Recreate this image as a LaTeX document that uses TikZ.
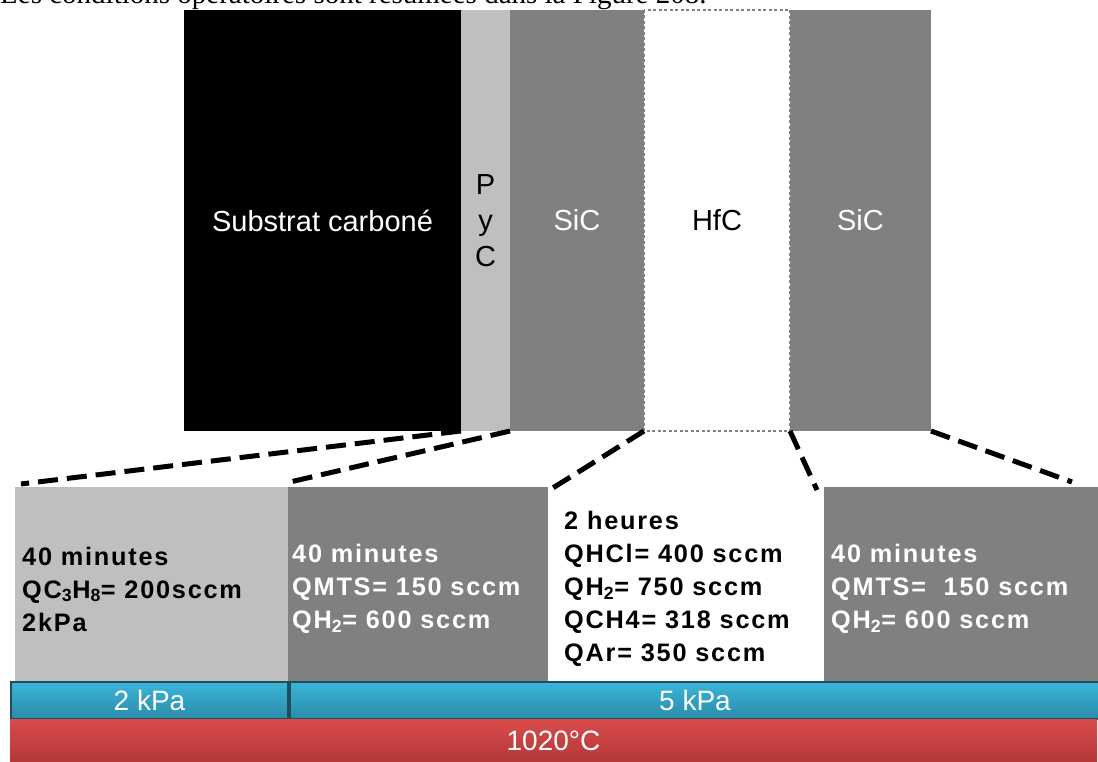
\documentclass[tikz,border=0pt]{standalone}
\usepackage{fontspec}
\setmainfont{Liberation Sans}
\newfontfamily\introfont{Liberation Serif}
\newfontfamily\condfont[LetterSpace=7]{Liberation Sans}
\definecolor{lgray}{HTML}{BFBFBF}
\definecolor{mgray}{HTML}{808080}
\definecolor{bluetop}{HTML}{3CB4D8}
\definecolor{bluebot}{HTML}{2A8CAA}
\definecolor{blueline}{HTML}{1E4F60}
\definecolor{redtop}{HTML}{DA4B4B}
\definecolor{redbot}{HTML}{B33838}
\begin{document}
\begin{tikzpicture}[x=1pt,y=-1pt,
  layer/.style={inner sep=0pt, outer sep=0pt, anchor=north west, minimum height=421pt, font=\fontsize{29}{36}\selectfont},
  cond/.style={inner sep=0pt, outer sep=0pt, anchor=north west, minimum height=194pt},
  condtext/.style={inner sep=0pt, anchor=west, align=left, font=\condfont\bfseries\fontsize{25.3}{33}\selectfont},
  dashline/.style={line width=5pt, dash pattern=on 20pt off 9pt},
  bar/.style={inner sep=0pt, outer sep=0pt, anchor=north west, text=white, font=\fontsize{28}{28}\selectfont},
]
\useasboundingbox (0,0) rectangle (1098,762);
\clip (0,0) rectangle (1098,762);

% cut-off sentence at the top
\node[anchor=base west, inner sep=0pt, font=\introfont\fontsize{29}{34}\selectfont] (intro) at (0,4) {Les conditions opératoires sont résumées dans la Figure 208.};

% layers
\node[layer, fill=black, text=white, minimum width=277pt] (sub) at (184,10) {Substrat carboné};
\node[layer, fill=lgray, minimum width=49pt, align=center] (pyc) at (461,10) {P\\y\\C};
\node[layer, fill=mgray, text=white, minimum width=134pt] (sic1) at (510,10) {SiC};
\node[layer, fill=white, minimum width=146pt] (hfc) at (644,10) {HfC};
\node[layer, fill=mgray, text=white, minimum width=141pt] (sic2) at (790,10) {SiC};
\draw[mgray, line width=2.5pt, dash pattern=on 3pt off 2.5pt] (hfc.north west) rectangle (hfc.south east);

% condition boxes
\node[cond, fill=lgray, minimum width=273pt] (b1) at (15,487) {};
\node[cond, fill=mgray, minimum width=260pt] (b2) at (288,487) {};
\node[cond, fill=white, minimum width=276pt] (b3) at (548,487) {};
\node[cond, fill=mgray, minimum width=274pt] (b4) at (824,487) {};

\node[condtext] (t1) at (22,589) {40 minutes\\QC\textsubscript{3}H\textsubscript{8}= 200sccm\\2kPa};
\node[condtext, text=white] (t2) at (292,589) {40 minutes\\QMTS= 150 sccm\\QH\textsubscript{2}= 600 sccm};
\node[condtext] (t3) at (564,589) {2 heures\\QHCl= 400 sccm\\QH\textsubscript{2}= 750 sccm\\QCH4= 318 sccm\\QAr= 350 sccm};
\node[condtext, text=white] (t4) at (831,589) {40 minutes\\QMTS=\ \ 150 sccm\\QH\textsubscript{2}= 600 sccm};

% dashed connectors
\coordinate (e1) at (21,484);
\coordinate (e2) at (290,482);
\coordinate (e3) at (548,491);
\coordinate (e4) at (817,490);
\coordinate (e5) at (1072,482);
\draw[dashline] (sub.south east) -- (e1);
\draw[dashline] (pyc.south east) -- (e2);
\draw[dashline] (hfc.south west) -- (e3);
\draw[dashline] (hfc.south east) -- (e4);
\draw[dashline] (sic2.south east) -- (e5);

% pressure bar
\node[bar, top color=bluetop, bottom color=bluebot, draw=blueline, line width=1.5pt, minimum width=277pt, minimum height=37pt] (p1) at (11,682) {2 kPa};
\node[bar, top color=bluetop, bottom color=bluebot, draw=blueline, line width=1.5pt, minimum width=810pt, minimum height=37pt] (p2) at (290,682) {5 kPa};

% temperature bar
\node[bar, top color=redtop, bottom color=redbot, minimum width=1087pt, minimum height=43pt] (temp) at (10,719) {1020°C};
\end{tikzpicture}
\end{document}
